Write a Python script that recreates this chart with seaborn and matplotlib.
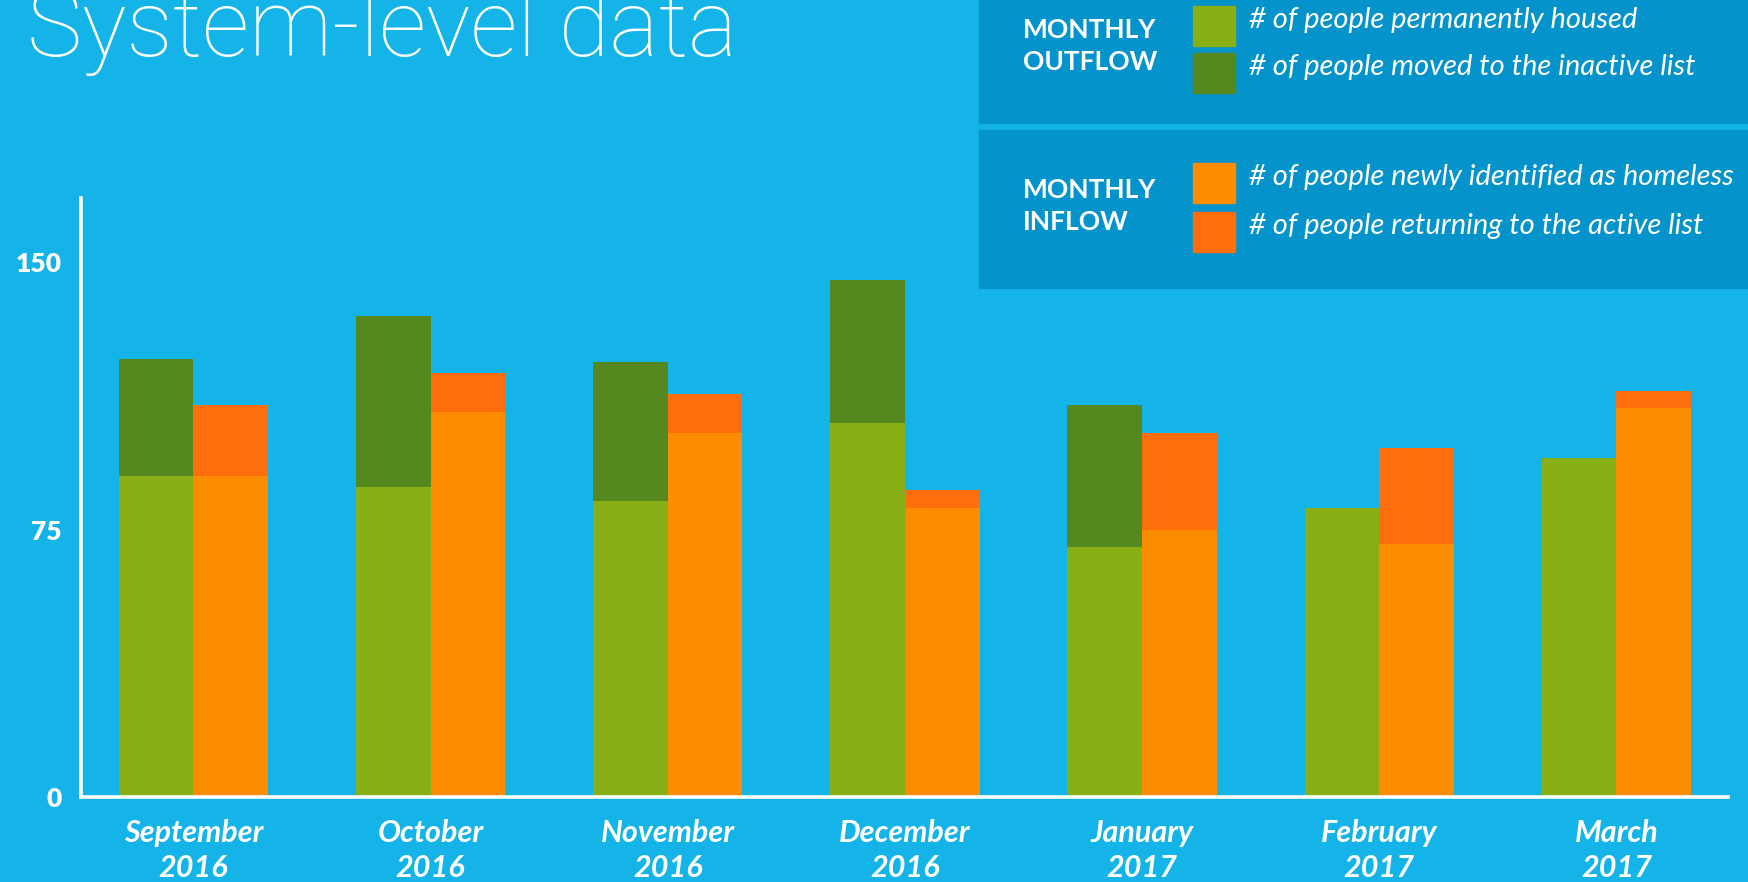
import matplotlib
matplotlib.use("Agg")
import matplotlib.pyplot as plt
import matplotlib.patches as mpatches
import seaborn as sns
import pandas as pd

# data
months = ["September\n2016", "October\n2016", "November\n2016", "December\n2016",
          "January\n2017", "February\n2017", "March\n2017"]
housed = [90, 87, 83, 105, 70, 81, 95]
inactive = [33, 48, 39, 40, 40, 0, 0]
newly_identified = [90, 108, 102, 81, 75, 71, 109]
returning = [20, 11, 11, 5, 27, 27, 5]
y_ticks = [0, 75, 150]

legend_groups = ["MONTHLY\nOUTFLOW", "MONTHLY\nINFLOW"]
legend_labels = ["# of people permanently housed",
                 "# of people moved to the inactive list",
                 "# of people newly identified as homeless",
                 "# of people returning to the active list"]

BG = "#14B4E9"
BOX = "#0593CC"
C_HOUSED = "#88B016"
C_INACTIVE = "#55881F"
C_NEW = "#FC8C00"
C_RETURN = "#FF6E0C"

sns.set_theme(style="white")
plt.rcParams["font.family"] = ["Lato", "DejaVu Sans"]

outflow_total = [a + b for a, b in zip(housed, inactive)]
inflow_total = [a + b for a, b in zip(newly_identified, returning)]

df_total = pd.DataFrame({
    "month": months * 2,
    "side": ["out"] * len(months) + ["in"] * len(months),
    "value": outflow_total + inflow_total,
})
df_base = pd.DataFrame({
    "month": months * 2,
    "side": ["out"] * len(months) + ["in"] * len(months),
    "value": housed + newly_identified,
})

fig = plt.figure(figsize=(17.48, 8.82), dpi=100, facecolor=BG)
ax = fig.add_axes([0.0463, 0.0964, 0.9422, 0.679])
ax.set_facecolor(BG)

# stacked look: totals first (darker tops), then the base part over them
sns.barplot(data=df_total, x="month", y="value", hue="side", hue_order=["out", "in"],
            palette={"out": C_INACTIVE, "in": C_RETURN}, width=0.63, errorbar=None,
            linewidth=0, saturation=1, legend=False, ax=ax)
sns.barplot(data=df_base, x="month", y="value", hue="side", hue_order=["out", "in"],
            palette={"out": C_HOUSED, "in": C_NEW}, width=0.63, errorbar=None,
            linewidth=0, saturation=1, legend=False, ax=ax)

ax.set_xlim(-0.474, 6.47)
ax.set_ylim(0, 168)
ax.set_xlabel("")
ax.set_ylabel("")
ax.set_yticks(y_ticks)
ax.set_yticklabels([str(t) for t in y_ticks], fontsize=19, fontweight="heavy", color="white")
ax.set_xticks(range(len(months)))
ax.set_xticklabels(months, fontsize=22, fontweight="bold", fontstyle="italic",
                   color="white", linespacing=1.3)
ax.tick_params(axis="y", length=0, pad=14)
ax.tick_params(axis="x", length=0, pad=16)
for side in ["top", "right"]:
    ax.spines[side].set_visible(False)
for side in ["left", "bottom"]:
    ax.spines[side].set_color("white")
    ax.spines[side].set_linewidth(2.6)

# title, cut off at the top like the original
fig.text(27 / 1748, 1 - 56 / 882, "System-level data", fontsize=67, fontweight="light",
         family=["Roboto", "Lato", "DejaVu Sans"], color="white", va="baseline", ha="left")

# legend panels
W, H = 1748, 882
fig.patches.append(mpatches.Rectangle((979 / W, 1 - 123 / H), 769 / W, 123 / H,
                                      transform=fig.transFigure, color=BOX, zorder=0))
fig.patches.append(mpatches.Rectangle((979 / W, 1 - 288 / H), 769 / W, 158 / H,
                                      transform=fig.transFigure, color=BOX, zorder=0))
fig.text(1023 / W, 1 - 46 / H, legend_groups[0], fontsize=19, fontweight="bold",
         color="white", va="center", ha="left", linespacing=1.4)
fig.text(1023 / W, 1 - 206 / H, legend_groups[1], fontsize=19, fontweight="bold",
         color="white", va="center", ha="left", linespacing=1.4)

swatch_colors = [C_HOUSED, C_INACTIVE, C_NEW, C_RETURN]
swatch_tops = [6, 53, 163, 212]
for color, top, label in zip(swatch_colors, swatch_tops, legend_labels):
    fig.patches.append(mpatches.Rectangle((1193 / W, 1 - (top + 40) / H), 42 / W, 40 / H,
                                          transform=fig.transFigure, color=color, zorder=1))
    fig.text(1249 / W, 1 - (top + 14) / H, label, fontsize=21, fontstyle="italic",
             fontweight="normal", color="white", va="center", ha="left")

fig.savefig("out.png", dpi=100, facecolor=BG)
